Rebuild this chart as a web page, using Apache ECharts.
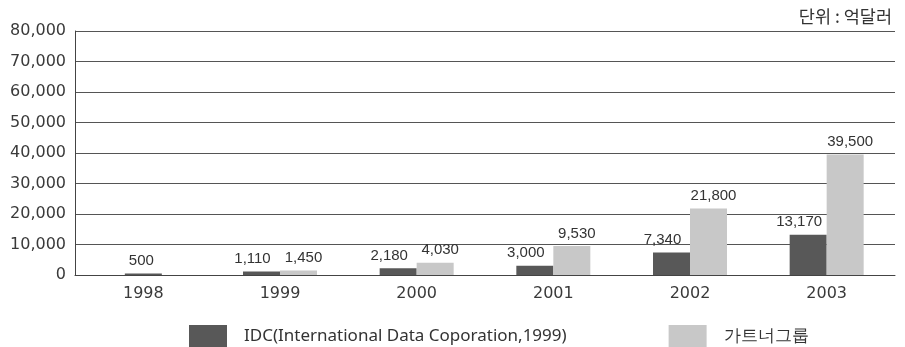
<!DOCTYPE html>
<html>
<head>
<meta charset="utf-8">
<script src="https://cdn.jsdelivr.net/npm/echarts@6/dist/echarts.min.js"></script>
<style>
  html, body { margin: 0; padding: 0; background: #fff; }
  #chart { width: 905px; height: 347px; }
</style>
</head>
<body>
<div id="chart"></div>
<script>
// Market size forecasts by source (unit: 100 million USD)
const years = ['1998', '1999', '2000', '2001', '2002', '2003'];
const idcValues = [500, 1110, 2180, 3000, 7340, 13170];
const gartnerValues = [null, 1450, 4030, 9530, 21800, 39500];
const yTicks = [0, 10000, 20000, 30000, 40000, 50000, 60000, 70000, 80000];

const idcName = 'IDC(International Data Coporation,1999)';
const gartnerName = '가트너그룹';

// Years with only one source get their bar centred on the category
const idcPaired = idcValues.map((v, i) => gartnerValues[i] == null ? null : v);
const idcSolo = idcValues.map((v, i) => gartnerValues[i] == null ? v : null);

const fmt = v => Number(v).toLocaleString('en-US');
function valueLabel(dx) {
  return {
    show: true,
    position: 'top',
    distance: 5,
    offset: [dx, 0],
    fontFamily: 'Liberation Sans',
    fontSize: 15,
    color: '#333',
    formatter: p => fmt(p.value)
  };
}
const darkColor = '#585858';
const lightColor = '#c8c8c8';

const chart = echarts.init(document.getElementById('chart'), null, { renderer: 'canvas' });
chart.setOption({
  animation: false,
  backgroundColor: '#fff',
  title: {
    text: '단위 : 억달러',
    right: 8,
    top: 3,
    textStyle: { fontFamily: 'Noto Sans CJK KR', fontSize: 17.5, fontWeight: 'normal', color: '#333' }
  },
  grid: { left: 75, right: 10, top: 31, bottom: 72, containLabel: false },
  legend: {
    data: [idcName, gartnerName],
    left: 184,
    top: 320,
    icon: 'rect',
    itemWidth: 38,
    itemHeight: 23,
    itemGap: 102,
    textStyle: { fontFamily: 'Noto Sans', fontSize: 17, color: '#333', padding: [0, 0, 0, 12] }
  },
  xAxis: [
    {
      type: 'category',
      data: years,
      axisLine: { show: true, lineStyle: { color: '#444', width: 1 } },
      axisTick: { show: false },
      axisLabel: { fontFamily: 'DejaVu Sans', fontSize: 16, color: '#3a3a3a', margin: 11 }
    },
    {
      type: 'category',
      data: years,
      show: false
    }
  ],
  yAxis: {
    type: 'value',
    min: yTicks[0],
    max: yTicks[yTicks.length - 1],
    interval: yTicks[1] - yTicks[0],
    axisLine: { show: true, lineStyle: { color: '#444', width: 1 } },
    axisTick: { show: false },
    splitLine: { show: true, lineStyle: { color: '#555', width: 1 } },
    axisLabel: {
      fontFamily: 'DejaVu Sans', fontSize: 16, color: '#3a3a3a', margin: 9,
      formatter: v => fmt(v)
    }
  },
  series: [
    {
      name: idcName, type: 'bar', xAxisIndex: 0, data: idcPaired,
      barWidth: 37, barGap: '0%',
      itemStyle: { color: darkColor },
      label: valueLabel(-9)
    },
    {
      name: gartnerName, type: 'bar', xAxisIndex: 0, data: gartnerValues,
      barWidth: 37, barGap: '0%',
      itemStyle: { color: lightColor },
      label: valueLabel(5)
    },
    {
      name: idcName, type: 'bar', xAxisIndex: 1, data: idcSolo,
      barWidth: 37,
      itemStyle: { color: darkColor },
      label: valueLabel(-2)
    }
  ]
});
</script>
</body>
</html>
